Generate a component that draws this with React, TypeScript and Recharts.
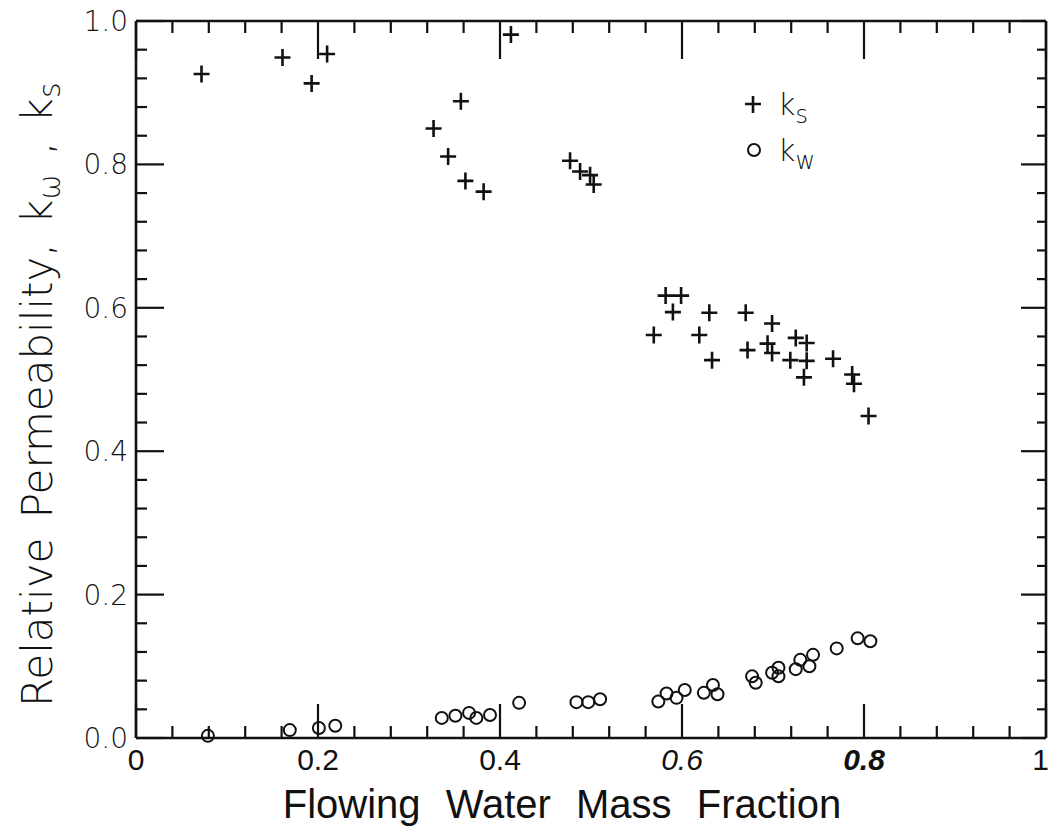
import { ScatterChart, Scatter, XAxis, YAxis, Legend, Label } from "recharts";

// k_s (crosses)
const ksX = [0.072, 0.161, 0.193, 0.21, 0.412, 0.327, 0.357, 0.343, 0.362, 0.382, 0.477, 0.488, 0.499, 0.503, 0.582, 0.599, 0.59, 0.569, 0.63, 0.619, 0.633, 0.67, 0.672, 0.699, 0.694, 0.699, 0.725, 0.737, 0.719, 0.737, 0.734, 0.766, 0.787, 0.789, 0.805];
const ksY = [0.926, 0.949, 0.913, 0.954, 0.981, 0.85, 0.888, 0.811, 0.777, 0.762, 0.805, 0.79, 0.785, 0.772, 0.617, 0.617, 0.594, 0.562, 0.593, 0.562, 0.527, 0.593, 0.541, 0.578, 0.55, 0.537, 0.558, 0.551, 0.527, 0.526, 0.503, 0.529, 0.507, 0.494, 0.449];

// k_w (circles)
const kwX = [0.079, 0.169, 0.201, 0.219, 0.336, 0.351, 0.366, 0.374, 0.389, 0.421, 0.484, 0.497, 0.51, 0.574, 0.583, 0.594, 0.603, 0.624, 0.634, 0.639, 0.677, 0.681, 0.699, 0.706, 0.706, 0.725, 0.73, 0.74, 0.744, 0.77, 0.793, 0.807];
const kwY = [0.003, 0.011, 0.014, 0.017, 0.028, 0.031, 0.035, 0.028, 0.032, 0.049, 0.05, 0.05, 0.054, 0.051, 0.062, 0.056, 0.067, 0.063, 0.074, 0.061, 0.086, 0.077, 0.091, 0.098, 0.086, 0.096, 0.109, 0.1, 0.116, 0.125, 0.139, 0.135];

const gridTicks = [0, 0.04, 0.08, 0.12, 0.16, 0.2, 0.24, 0.28, 0.32, 0.36, 0.4, 0.44, 0.48, 0.52, 0.56, 0.6, 0.64, 0.68, 0.72, 0.76, 0.8, 0.84, 0.88, 0.92, 0.96, 1];
const xTickLabels = ["0", "0.2", "0.4", "0.6", "0.8", "1"];
const yTickLabels = ["0.0", "0.2", "0.4", "0.6", "0.8", "1.0"];

const ks = ksX.map((x, i) => ({ x, y: ksY[i] }));
const kw = kwX.map((x, i) => ({ x, y: kwY[i] }));

const ink = "#111";
const sans = "'DejaVu Sans', sans-serif";
const plain = "'Liberation Sans', sans-serif";

function major(v: number) {
  const k = Math.round(v * 5);
  return Math.abs(v * 5 - k) < 1e-6 ? k : -1;
}

const Cross = (p: any) => (
  <path d={`M${p.cx - 8},${p.cy}h16M${p.cx},${p.cy - 8.5}v17`} stroke={ink} strokeWidth={2.6} />
);
const Ring = (p: any) => <circle cx={p.cx} cy={p.cy} r={6} fill="none" stroke={ink} strokeWidth={2} />;

function BottomTick({ x, y, payload }: any) {
  const k = major(payload.value);
  const st: any = k === 3 ? { fontStyle: "italic" } : k === 4 ? { fontStyle: "italic", fontWeight: "bold" } : {};
  // the last label sits on the frame edge, keep it inside the picture
  const last = k === 5;
  return (
    <g>
      <line x1={x} x2={x} y1={y} y2={y - (k >= 0 ? 34 : 12)} stroke={ink} strokeWidth={2.2} />
      {k >= 0 && (
        <text x={last ? x + 3 : x} y={y + 32} textAnchor={last ? "end" : "middle"} fontFamily={plain} fontSize={30} fill={ink} style={st}>
          {xTickLabels[k]}
        </text>
      )}
    </g>
  );
}

function TopTick({ x, y, payload }: any) {
  const k = major(payload.value);
  return <line x1={x} x2={x} y1={y} y2={y + (k >= 0 ? 38 : 12)} stroke={ink} strokeWidth={2.2} />;
}

function LeftTick({ x, y, payload }: any) {
  const k = major(payload.value);
  return (
    <g>
      <line x1={x} x2={x + (k >= 0 ? 28 : 11)} y1={y} y2={y} stroke={ink} strokeWidth={2.2} />
      {k >= 0 && (
        <text x={x - 8} y={y + 10} textAnchor="end" fontFamily={sans} fontWeight={200} fontSize={28} fill={ink}>
          {yTickLabels[k]}
        </text>
      )}
    </g>
  );
}

function RightTick({ x, y, payload }: any) {
  const k = major(payload.value);
  return <line x1={x} x2={x - (k >= 0 ? 25 : 9)} y1={y} y2={y} stroke={ink} strokeWidth={2.2} />;
}

const XTitle = () => (
  <text x={562} y={818} textAnchor="middle" fontFamily={plain} fontSize={40} fill={ink} style={{ wordSpacing: 14 }}>
    Flowing Water Mass Fraction
  </text>
);

const YTitle = () => (
  <text transform="translate(52,707) rotate(-90)" fontFamily={sans} fontWeight={200} fontSize={42} fill={ink} style={{ wordSpacing: 6 }}>
    Relative Permeability, k
    <tspan dy={8} fontSize={30}>ω</tspan>
    <tspan dy={-8}> , k</tspan>
    <tspan dy={8} fontSize={30}>s</tspan>
  </text>
);

const LegendBox = () => (
  <svg width={110} height={100} style={{ overflow: "visible" }}>
    <path d="M7,19h16M15,11v17" stroke={ink} strokeWidth={2.6} />
    <text x={40} y={30} fontFamily={sans} fontWeight={200} fontSize={30} fill={ink}>
      k<tspan dy={8} fontSize={24}>s</tspan>
    </text>
    <circle cx={16} cy={65} r={6} fill="none" stroke={ink} strokeWidth={2} />
    <text x={40} y={76} fontFamily={sans} fontWeight={200} fontSize={30} fill={ink}>
      k<tspan dy={8} fontSize={24}>w</tspan>
    </text>
  </svg>
);

export default function App() {
  return (
    <div style={{ position: "absolute", left: 0, top: 0, width: 1051, height: 832, background: "#fff" }}>
      <ScatterChart width={1051} height={832} margin={{ top: 20, right: 1, bottom: 34, left: 36 }}>
        <XAxis xAxisId="b" dataKey="x" type="number" domain={[0, 1]} ticks={gridTicks} interval={0}
          height={60} tickSize={0} tickMargin={0} tickLine={false} axisLine={{ stroke: ink, strokeWidth: 2.6 }} tick={BottomTick}>
          <Label content={XTitle} />
        </XAxis>
        <XAxis xAxisId="t" orientation="top" dataKey="x" type="number" domain={[0, 1]} ticks={gridTicks} interval={0}
          height={1} tickSize={0} tickMargin={0} tickLine={false} axisLine={{ stroke: ink, strokeWidth: 2.4 }} tick={TopTick} />
        <YAxis yAxisId="l" dataKey="y" type="number" domain={[0, 1]} ticks={gridTicks} interval={0}
          width={100} tickSize={0} tickMargin={0} tickLine={false} axisLine={{ stroke: ink, strokeWidth: 2.6 }} tick={LeftTick}>
          <Label content={YTitle} />
        </YAxis>
        <YAxis yAxisId="r" orientation="right" dataKey="y" type="number" domain={[0, 1]} ticks={gridTicks} interval={0}
          width={4} tickSize={0} tickMargin={0} tickLine={false} axisLine={{ stroke: ink, strokeWidth: 2.6 }} tick={RightTick} />
        <Legend layout="horizontal" verticalAlign="middle" align="center" content={LegendBox}
          wrapperStyle={{ left: 738, top: 85, width: 110, height: 100 }} />
        <Scatter name="ks" data={ks} xAxisId="b" yAxisId="l" shape={Cross} isAnimationActive={false} />
        <Scatter name="kw" data={kw} xAxisId="t" yAxisId="r" shape={Ring} isAnimationActive={false} />
      </ScatterChart>
    </div>
  );
}
